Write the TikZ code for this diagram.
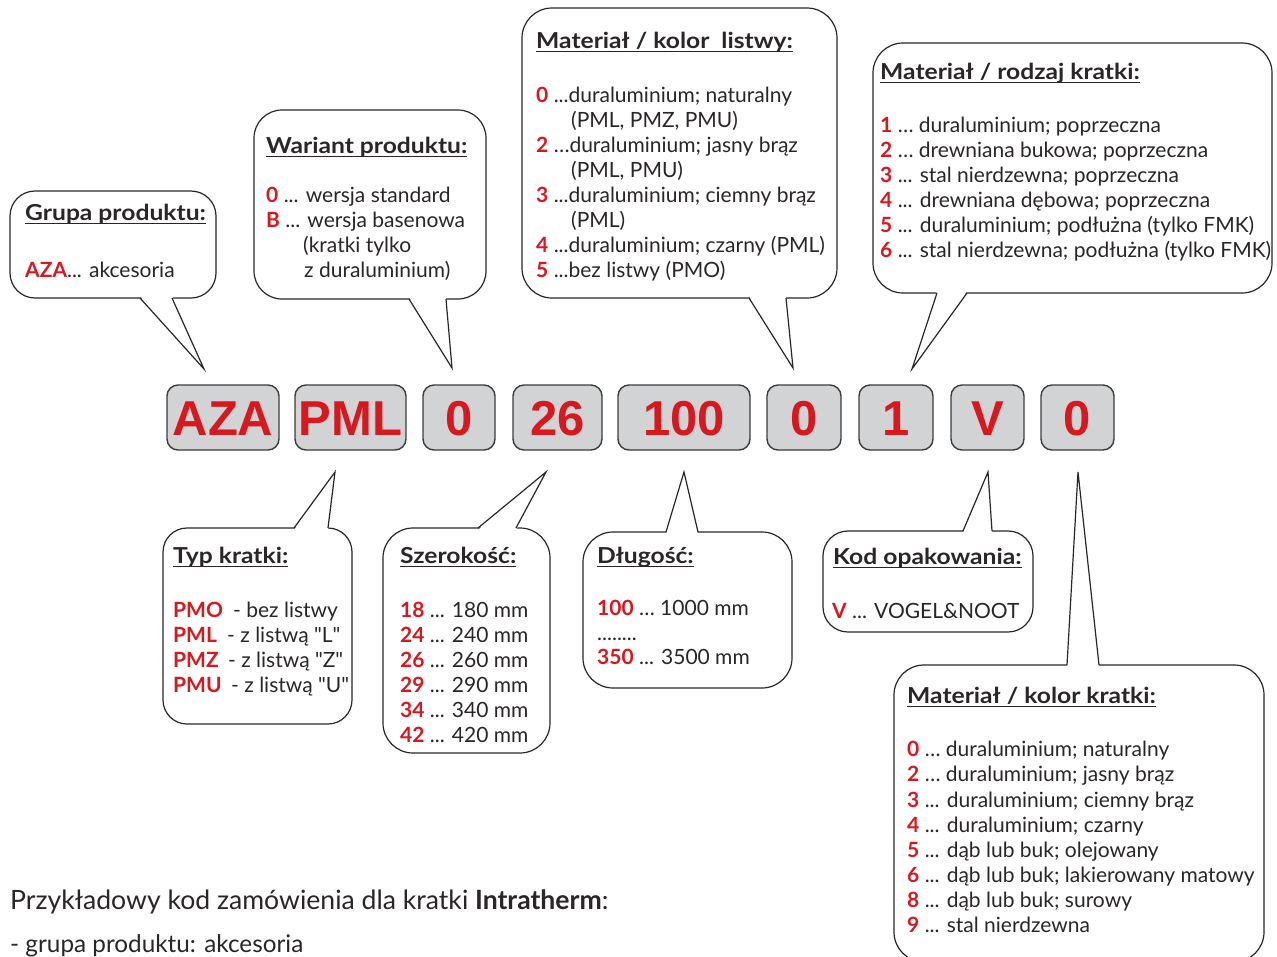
\documentclass[tikz,border=0pt]{standalone}
\usepackage{fontspec}
\usepackage{graphicx}
\setmainfont{Lato}
\newfontfamily\codefont{Liberation Sans}
\definecolor{codered}{HTML}{D7191F}
\definecolor{txt}{HTML}{2A2627}
\definecolor{boxgray}{HTML}{D1D3D4}
\definecolor{boxline}{HTML}{3C3C3C}
\newsavebox\hdbox
\newcommand\hd[1]{\sbox\hdbox{\scalebox{1.12}[1]{#1}}\rlap{\rule[-3.6pt]{\wd\hdbox}{0.9pt}}\usebox\hdbox}
\newcommand\rn[1]{\textcolor{codered}{\bfseries #1}}
\newcommand\qt{\textquotedbl}
\tikzset{
  codebox/.style={draw=boxline, fill=boxgray, line width=1.4pt, rounded corners=11pt,
    minimum height=65pt, inner sep=0pt, text height=35pt, text depth=0pt,
    text=codered, font=\codefont\bfseries\fontsize{49}{49}\selectfont},
  bubble/.style={draw=txt, line width=1.2pt, fill=white},
  tail/.style={draw=txt, line width=1.2pt, line join=miter},
  hdtxt/.style={anchor=base west, inner sep=0pt, text=txt, font=\bfseries\fontsize{22}{22}\selectfont},
  bodytxt/.style={anchor=base west, inner sep=0pt, text=txt, font=\fontsize{21}{21}\selectfont},
  bigtxt/.style={anchor=base west, inner sep=0pt, text=txt, font=\fontsize{26.6}{26.6}\selectfont},
  midtxt/.style={anchor=base west, inner sep=0pt, text=txt, font=\fontsize{24.3}{24.3}\selectfont},
}
% L T R B radius bl br tip  (tail below the box)
\newcommand\calloutdown[8]{%
  \draw[bubble, rounded corners=#5pt] (#1,#2) rectangle (#3,#4);
  \fill[white] (#6,#4-2) -- (#8) -- (#7,#4-2) -- cycle;
  \draw[tail] (#6,#4) -- (#8) -- (#7,#4);
}
% L T R B radius bl br tip  (tail above the box)
\newcommand\calloutup[8]{%
  \draw[bubble, rounded corners=#5pt] (#1,#2) rectangle (#3,#4);
  \fill[white] (#6,#2+2) -- (#8) -- (#7,#2+2) -- cycle;
  \draw[tail] (#6,#2) -- (#8) -- (#7,#2);
}
\begin{document}
\begin{tikzpicture}[x=1pt, y=-1pt]
\useasboundingbox (0,0) rectangle (1277,956);
\clip (0,0) rectangle (1277,956);
\fill[white] (0,0) rectangle (1277,956);

% ---- code boxes ----
\node[codebox, minimum width=112pt] (c1) at (223,417.5) {AZA};
\node[codebox, minimum width=111pt] (c2) at (350.5,417.5) {PML};
\node[codebox, minimum width=72pt]  (c3) at (459,417.5) {0};
\node[codebox, minimum width=89pt]  (c4) at (557.5,417.5) {26};
\node[codebox, minimum width=132pt] (c5) at (684,417.5) {100};
\node[codebox, minimum width=74pt]  (c6) at (804,417.5) {0};
\node[codebox, minimum width=74pt]  (c7) at (896,417.5) {1};
\node[codebox, minimum width=73pt]  (c8) at (987.5,417.5) {V};
\node[codebox, minimum width=73pt]  (c9) at (1077.5,417.5) {0};

% ---- tail tips ----
\coordinate (t1) at (204,369);
\coordinate (t2) at (452,368);
\coordinate (t3) at (793,368);
\coordinate (t4) at (912,369);
\coordinate (t5) at (335,472);
\coordinate (t6) at (546,472);
\coordinate (t7) at (684,472);
\coordinate (t8) at (988,472);
\coordinate (t9) at (1078,472);

% ---- callouts ----
\calloutdown{10}{191}{216}{298}{25}{140}{172}{t1}
\calloutdown{254}{110}{486}{299}{28}{409}{446}{t2}
\calloutdown{522}{8}{837}{298}{30}{749}{786}{t3}
\calloutdown{873}{43}{1272}{293}{30}{937}{967}{t4}
\calloutup{163}{528}{352}{724}{24}{294}{328}{t5}
\calloutup{383}{528}{550}{753}{30}{478}{516}{t6}
\calloutup{583}{532}{792}{688}{30}{666}{698}{t7}
\calloutup{823}{531}{1033}{632}{25}{963}{992}{t8}
\calloutup{894}{665}{1264}{962}{30}{1067}{1099}{t9}

% ---- Grupa produktu ----
\node[hdtxt] (g0) at (25,220) {\hd{Grupa produktu:}};
\node[bodytxt] (g1) at (25,277) {\rn{AZA}... akcesoria};

% ---- Wariant produktu ----
\node[hdtxt] (w0) at (266,153) {\hd{Wariant produktu:}};
\node[bodytxt] (w1) at (266,202) {\rn{0} ... wersja standard};
\node[bodytxt] (w2) at (266,227) {\rn{B} ... wersja basenowa};
\node[bodytxt] (w3) at (303,252) {(kratki tylko};
\node[bodytxt] (w4) at (304,277) {z duraluminium)};

% ---- Materiał / kolor listwy ----
\node[hdtxt] (l0) at (536,48) {\hd{Materiał / kolor\ \ listwy:}};
\node[bodytxt] (l1) at (536,102) {\rn{0} ...duraluminium; naturalny};
\node[bodytxt] (l2) at (571,127) {(PML, PMZ, PMU)};
\node[bodytxt] (l3) at (536,152) {\rn{2} …duraluminium; jasny brąz};
\node[bodytxt] (l4) at (571,177) {(PML, PMU)};
\node[bodytxt] (l5) at (536,202) {\rn{3} ...duraluminium; ciemny brąz};
\node[bodytxt] (l6) at (571,227) {(PML)};
\node[bodytxt] (l7) at (536,252) {\rn{4} ...duraluminium; czarny (PML)};
\node[bodytxt] (l8) at (536,277) {\rn{5} ...bez listwy (PMO)};

% ---- Materiał / rodzaj kratki ----
\node[hdtxt] (r0) at (880,79) {\hd{Materiał / rodzaj kratki:}};
\node[bodytxt] (r1) at (880,132) {\rn{1} … duraluminium; poprzeczna};
\node[bodytxt] (r2) at (880,157) {\rn{2} … drewniana bukowa; poprzeczna};
\node[bodytxt] (r3) at (880,182) {\rn{3} ... stal nierdzewna; poprzeczna};
\node[bodytxt] (r4) at (880,207) {\rn{4} ... drewniana dębowa; poprzeczna};
\node[bodytxt] (r5) at (880,232) {\rn{5} ... duraluminium; podłużna (tylko FMK)};
\node[bodytxt] (r6) at (880,257) {\rn{6} ... stal nierdzewna; podłużna (tylko FMK)};

% ---- Typ kratki ----
\node[hdtxt] (k0) at (173,563) {\hd{Typ kratki:}};
\node[bodytxt] (k1) at (173,617) {\makebox[60pt][l]{\rn{PMO}}- bez listwy};
\node[bodytxt] (k2) at (173,642) {\makebox[54pt][l]{\rn{PML}}- z listwą \qt L\qt};
\node[bodytxt] (k3) at (173,667) {\makebox[55pt][l]{\rn{PMZ}}- z listwą \qt Z\qt};
\node[bodytxt] (k4) at (173,692) {\makebox[58pt][l]{\rn{PMU}}- z listwą \qt U\qt};

% ---- Szerokość ----
\node[hdtxt] (s0) at (400,563) {\hd{Szerokość:}};
\node[bodytxt] (s1) at (400,617) {\rn{18} ... 180 mm};
\node[bodytxt] (s2) at (400,642) {\rn{24} ... 240 mm};
\node[bodytxt] (s3) at (400,667) {\rn{26} ... 260 mm};
\node[bodytxt] (s4) at (400,692) {\rn{29} ... 290 mm};
\node[bodytxt] (s5) at (400,717) {\rn{34} ... 340 mm};
\node[bodytxt] (s6) at (400,742) {\rn{42} ... 420 mm};

% ---- Długość ----
\node[hdtxt] (d0) at (597,563) {\hd{Długość:}};
\node[bodytxt] (d1) at (597,615) {\rn{100} … 1000 mm};
\node[bodytxt] (d2) at (597,640) {........};
\node[bodytxt] (d3) at (597,664) {\rn{350} ... 3500 mm};

% ---- Kod opakowania ----
\node[hdtxt] (o0) at (833,564) {\hd{Kod opakowania:}};
\node[bodytxt] (o1) at (832,618) {\rn{V} ... VOGEL\&NOOT};

% ---- Materiał / kolor kratki ----
\node[hdtxt] (m0) at (907,703) {\hd{Materiał / kolor kratki:}};
\node[bodytxt] (m1) at (907,756) {\rn{0} … duraluminium; naturalny};
\node[bodytxt] (m2) at (907,781) {\rn{2} … duraluminium; jasny brąz};
\node[bodytxt] (m3) at (907,807) {\rn{3} ... duraluminium; ciemny brąz};
\node[bodytxt] (m4) at (907,832) {\rn{4} ... duraluminium; czarny};
\node[bodytxt] (m5) at (907,857) {\rn{5} ... dąb lub buk; olejowany};
\node[bodytxt] (m6) at (907,882) {\rn{6} ... dąb lub buk; lakierowany matowy};
\node[bodytxt] (m7) at (907,907) {\rn{8} ... dąb lub buk; surowy};
\node[bodytxt] (m8) at (907,932) {\rn{9} ... stal nierdzewna};

% ---- example text ----
\node[bigtxt] (e1) at (10,909) {Przykładowy kod zamówienia dla kratki \textbf{Intratherm}:};
\node[midtxt] (e2) at (10,952) {- grupa produktu: akcesoria};
\end{tikzpicture}
\end{document}
